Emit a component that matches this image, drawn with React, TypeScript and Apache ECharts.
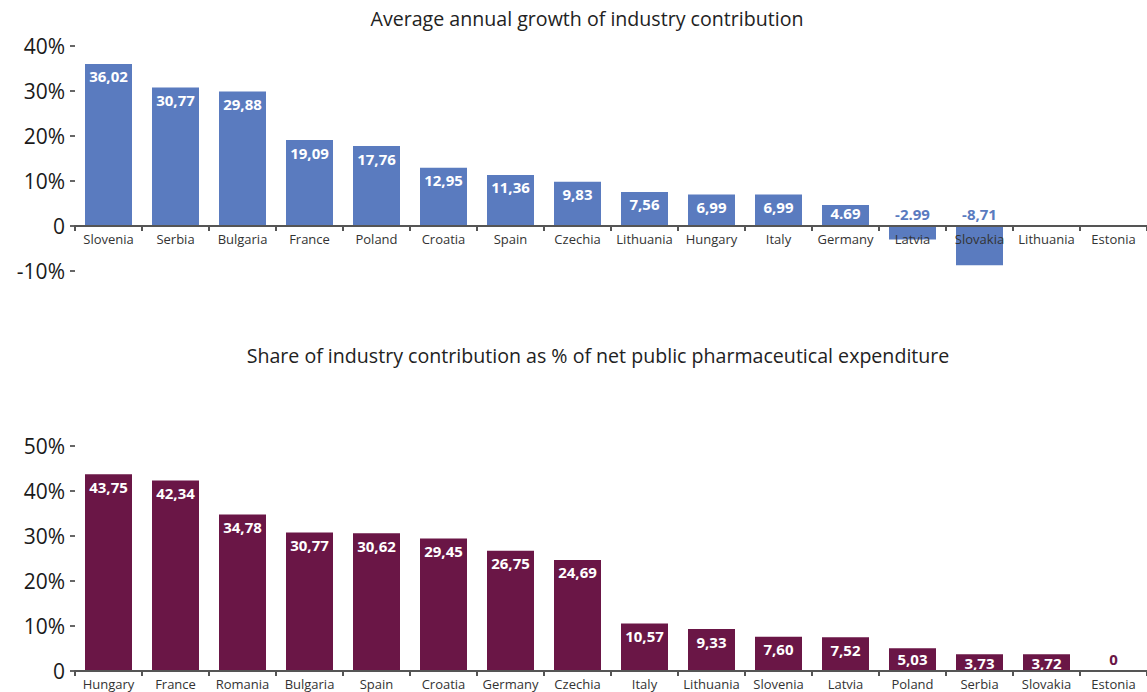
import React, { useEffect, useRef } from "react";
import * as echarts from "echarts";

const topCategories = ["Slovenia", "Serbia", "Bulgaria", "France", "Poland", "Croatia", "Spain", "Czechia", "Lithuania", "Hungary", "Italy", "Germany", "Latvia", "Slovakia", "Lithuania", "Estonia"];
const topValues: (number | null)[] = [36.02, 30.77, 29.88, 19.09, 17.76, 12.95, 11.36, 9.83, 7.56, 6.99, 6.99, 4.69, -2.99, -8.71, null, null];
const topLabels = ["36,02", "30,77", "29,88", "19,09", "17,76", "12,95", "11,36", "9,83", "7,56", "6,99", "6,99", "4.69", "-2.99", "-8,71", "", ""];

const bottomCategories = ["Hungary", "France", "Romania", "Bulgaria", "Spain", "Croatia", "Germany", "Czechia", "Italy", "Lithuania", "Slovenia", "Latvia", "Poland", "Serbia", "Slovakia", "Estonia"];
const bottomValues = [43.75, 42.34, 34.78, 30.77, 30.62, 29.45, 26.75, 24.69, 10.57, 9.33, 7.6, 7.52, 5.03, 3.73, 3.72, 0];
const bottomLabels = ["43,75", "42,34", "34,78", "30,77", "30,62", "29,45", "26,75", "24,69", "10,57", "9,33", "7,60", "7,52", "5,03", "3,73", "3,72", "0"];

const topTitle = "Average annual growth of industry contribution";
const bottomTitle = "Share of industry contribution as % of net public pharmaceutical expenditure";

const BLUE = "#5A7BBF";
const MAROON = "#6A1646";
const FONT = "'Open Sans', 'Noto Sans', sans-serif";

export default function App() {
  const ref = useRef<HTMLDivElement>(null);
  useEffect(() => {
    document.body.style.margin = "0";
    const chart = echarts.init(ref.current!, null, { renderer: "svg" });

    const yAxisCommon = (min: number, max: number) => ({
      type: "value",
      min,
      max,
      interval: 10,
      splitLine: { show: false },
      axisLine: { show: false },
      axisTick: { show: true, length: 5, lineStyle: { color: "#333", width: 1.5 } },
      axisLabel: {
        fontSize: 21,
        color: "#1a1a1a",
        fontFamily: FONT,
        margin: 10,
        formatter: (v: number) => (v === 0 ? "0" : v + "%"),
      },
    });

    const xAxisCommon = (cats: string[], grid: number, offset: number) => ({
      type: "category",
      gridIndex: grid,
      data: cats,
      position: "bottom",
      offset,
      z: 5,
      axisLine: { onZero: false, lineStyle: { color: "#555", width: 2 } },
      axisTick: { show: true, length: 5, lineStyle: { color: "#555", width: 2 } },
      axisLabel: { fontSize: 13, color: "#333", fontFamily: FONT, margin: 6, interval: 0 },
    });

    const lbl = (color: string, pos: string, dist: number, text: string) => ({
      show: true,
      position: pos,
      distance: dist,
      color,
      fontWeight: "bold",
      fontSize: 15,
      lineHeight: 15,
      fontFamily: FONT,
      formatter: () => text,
    });

    const inside = (v: number, text: string) => lbl("#fff", "insideTop", v < 5 ? 1 : v < 6 ? 3 : 5, text);

    const topData = topValues.map((v, i) => {
      if (v === null) return { value: null };
      return {
        value: v,
        label: v < 0 ? lbl(BLUE, "top", 5, topLabels[i]) : inside(v, topLabels[i]),
      };
    });

    const bottomData = bottomValues.map((v, i) => ({
      value: v,
      label: v === 0 ? lbl(MAROON, "top", 5, bottomLabels[i]) : inside(v, bottomLabels[i]),
    }));

    chart.setOption({
      animation: false,
      title: [
        { text: topTitle, left: 582, top: 3, textAlign: "center", textStyle: { fontSize: 19.6, fontWeight: "normal", color: "#222", fontFamily: FONT } },
        { text: bottomTitle, left: 593, top: 340, textAlign: "center", textStyle: { fontSize: 19.6, fontWeight: "normal", color: "#222", fontFamily: FONT } },
      ],
      grid: [
        { left: 75, right: 0, top: 46, height: 225 },
        { left: 75, right: 0, top: 446, height: 225 },
      ],
      xAxis: [xAxisCommon(topCategories, 0, -45), xAxisCommon(bottomCategories, 1, 0)],
      yAxis: [
        { ...yAxisCommon(-10, 40), gridIndex: 0 },
        { ...yAxisCommon(0, 50), gridIndex: 1 },
      ],
      series: [
        { type: "bar", xAxisIndex: 0, yAxisIndex: 0, data: topData, barWidth: 47, z: 2, itemStyle: { color: BLUE } },
        { type: "bar", xAxisIndex: 1, yAxisIndex: 1, data: bottomData, barWidth: 47, z: 2, itemStyle: { color: MAROON } },
      ],
    });
    return () => chart.dispose();
  }, []);
  return <div ref={ref} style={{ width: 1147, height: 692 }} />;
}
